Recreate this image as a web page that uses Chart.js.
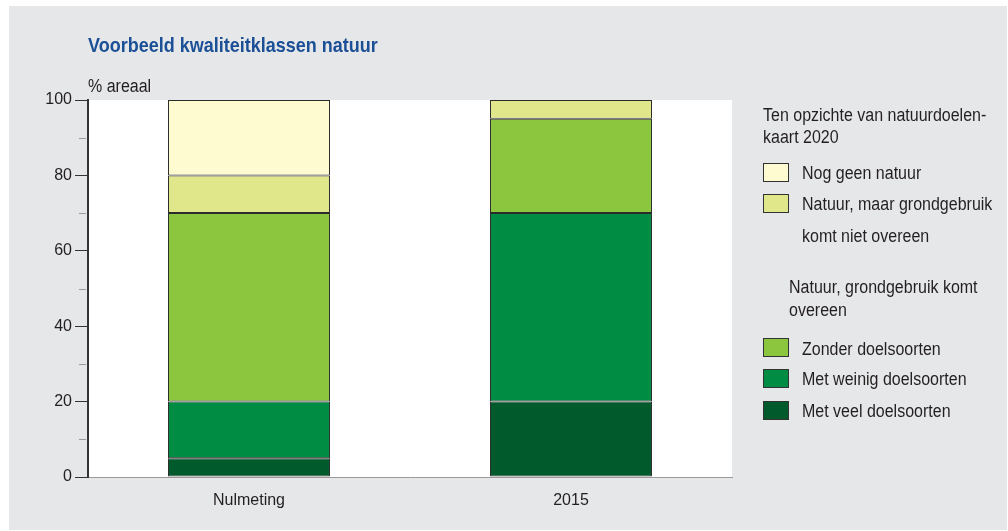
<!DOCTYPE html>
<html>
<head>
<meta charset="utf-8">
<script src="https://cdn.jsdelivr.net/npm/chart.js@4/dist/chart.umd.min.js"></script>
<style>
  html, body { margin: 0; padding: 0; background: #ffffff; }
  #wrap { width: 1008px; height: 531px; }
</style>
</head>
<body>
<div id="wrap"><canvas id="myChart" width="1008" height="531"></canvas></div>
<script>
var labels = ['Nulmeting', '2015'];
var metVeel = [5, 20];
var metWeinig = [15, 50];
var zonder = [50, 25];
var natuurMaar = [10, 5];
var nogGeen = [20, 0];
var yTicks = [0, 20, 40, 60, 80, 100];
var yMinorTicks = [10, 30, 50, 70, 90];

var FONT = "'Liberation Sans', Arial, Helvetica, sans-serif";
var TEXT = '#231f20';

// text a little taller than wide, like the narrow house font
function tallText(c, t, x, y, sy) {
  c.save();
  c.translate(x, y);
  c.scale(1, sy);
  c.fillText(t, 0, 0);
  c.restore();
}

// gray panel, white plot area, title and the grouped legend on the right
var decor = {
  id: 'decor',
  beforeDraw: function(chart) {
    var c = chart.ctx, a = chart.chartArea;
    c.save();
    c.fillStyle = '#e6e7e9';
    c.fillRect(9, 6, 998, 524);
    c.fillStyle = '#ffffff';
    c.fillRect(a.left, a.top, a.right - a.left, a.bottom - a.top);
    c.restore();
  },
  afterDraw: function(chart) {
    var c = chart.ctx, ys = chart.scales.y;
    c.save();
    // minor ticks
    c.strokeStyle = '#9a9a9a';
    c.lineWidth = 1;
    yMinorTicks.forEach(function(v) {
      var py = Math.round(ys.getPixelForValue(v)) + 0.5;
      c.beginPath();
      c.moveTo(79, py);
      c.lineTo(86, py);
      c.stroke();
    });

    c.textBaseline = 'alphabetic';
    c.fillStyle = '#1b4f96';
    c.font = 'bold 18px ' + FONT;
    tallText(c, 'Voorbeeld kwaliteitklassen natuur', 88, 52, 1.14);

    c.fillStyle = TEXT;
    c.font = '16px ' + FONT;
    tallText(c, '% areaal', 88, 92, 1.1);

    tallText(c, 'Ten opzichte van natuurdoelen-', 763, 121, 1.1);
    tallText(c, 'kaart 2020', 763, 143, 1.1);
    tallText(c, 'Natuur, grondgebruik komt', 789, 293, 1.1);
    tallText(c, 'overeen', 789, 316, 1.1);

    var ds = chart.data.datasets;
    var items = [
      { d: ds[4], box: 163, lines: [179] },
      { d: ds[3], box: 194, lines: [210, 242] },
      { d: ds[2], box: 338, lines: [355] },
      { d: ds[1], box: 369, lines: [385] },
      { d: ds[0], box: 401, lines: [417] }
    ];
    items.forEach(function(it) {
      c.fillStyle = it.d.backgroundColor;
      c.fillRect(763, it.box, 26, 19);
      c.strokeStyle = '#333333';
      c.lineWidth = 1;
      c.strokeRect(763.5, it.box + 0.5, 25, 18);
      c.fillStyle = TEXT;
      var parts = Array.isArray(it.d.label) ? it.d.label : [it.d.label];
      parts.forEach(function(t, i) { tallText(c, t, 802, it.lines[i], 1.1); });
    });
    c.restore();
  }
};

function bar(label, data, color) {
  return {
    label: label,
    data: data,
    backgroundColor: color,
    borderColor: '#2b2b2b',
    borderWidth: 1,
    borderSkipped: false,
    categoryPercentage: 1,
    barPercentage: 0.503
  };
}

var ctx = document.getElementById('myChart').getContext('2d');
var myChart = new Chart(ctx, {
  type: 'bar',
  data: {
    labels: labels,
    datasets: [
      bar('Met veel doelsoorten', metVeel, '#005a2b'),
      bar('Met weinig doelsoorten', metWeinig, '#008d43'),
      bar('Zonder doelsoorten', zonder, '#8cc63f'),
      bar(['Natuur, maar grondgebruik', 'komt niet overeen'], natuurMaar, '#e0e68a'),
      bar('Nog geen natuur', nogGeen, '#fffbd0')
    ]
  },
  options: {
    responsive: false,
    animation: false,
    layout: { padding: { top: 100, right: 276, left: 0, bottom: 0 } },
    plugins: {
      legend: { display: false },
      tooltip: { enabled: false }
    },
    scales: {
      x: {
        stacked: true,
        afterFit: function(s) { s.height = 54; },
        grid: { display: false, drawTicks: false },
        border: { display: true, color: '#9a9a9a', width: 1 },
        ticks: { color: TEXT, font: { family: FONT, size: 16 }, padding: 14 }
      },
      y: {
        stacked: true,
        min: 0,
        max: 100,
        afterFit: function(s) { s.width = 88; },
        afterBuildTicks: function(s) { s.ticks = yTicks.map(function(v) { return { value: v }; }); },
        grid: { drawOnChartArea: false, drawTicks: true, tickLength: 13, tickColor: '#333333' },
        border: { display: true, color: '#333333', width: 2 },
        ticks: { color: TEXT, font: { family: FONT, size: 16 }, padding: 3 }
      }
    }
  },
  plugins: [decor]
});
</script>
</body>
</html>
